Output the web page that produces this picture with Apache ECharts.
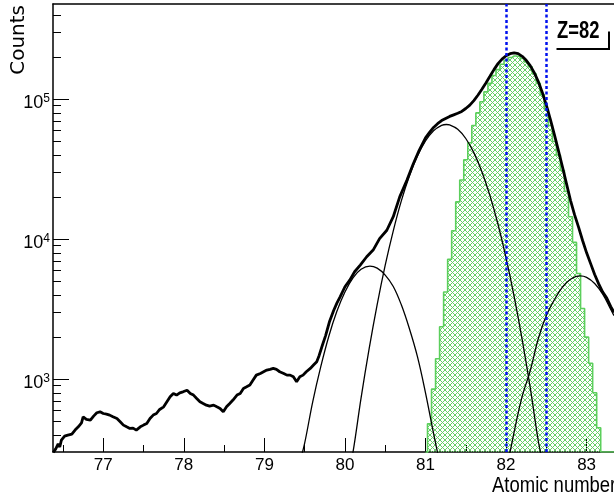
<!DOCTYPE html>
<html>
<head>
<meta charset="utf-8">
<script src="https://cdn.jsdelivr.net/npm/echarts@6/dist/echarts.min.js"></script>
<style>
html,body{margin:0;padding:0;background:#fff;}
#chart{width:614px;height:500px;}
</style>
</head>
<body>
<div id="chart"></div>
<script>
// ---------------- data ----------------
const xTickValues = [77, 78, 79, 80, 81, 82, 83];
const xMinorTickValues = [76.5, 77.5, 78.5, 79.5, 80.5, 81.5, 82.5];
const yMinorTickValues = [400, 500, 600, 700, 800, 900,
  2000, 3000, 4000, 5000, 6000, 7000, 8000, 9000,
  20000, 30000, 40000, 50000, 60000, 70000, 80000, 90000,
  200000, 300000, 400000];
const zCutLines = [82.0, 82.5];

// measured spectrum (thick black histogram)
const dataZ = [76.38,76.41,76.44,76.46,76.48,76.52,76.56,76.61,76.65,76.69,76.73,76.75,76.79,76.84,76.88,76.92,76.96,
  77.00,77.04,77.08,77.12,77.17,77.21,77.25,77.29,77.33,77.37,77.41,77.46,77.50,77.54,77.58,77.62,77.66,77.70,77.75,77.79,77.83,77.87,77.91,77.95,77.99,
  78.04,78.08,78.12,78.16,78.20,78.24,78.28,78.32,78.37,78.41,78.45,78.49,78.53,78.57,78.61,78.66,78.70,78.74,78.78,78.82,78.86,78.90,78.95,78.99,
  79.03,79.07,79.11,79.15,79.19,79.24,79.28,79.32,79.36,79.40,79.44,79.48,79.52,79.57,79.61,79.65,79.68,79.72,79.76,79.81,79.86,79.90,79.94,
  80.00,80.06,80.12,80.19,80.27,80.35,80.43,80.52,80.60,80.68,80.77,80.85,80.92,
  81.00,81.05,81.10,81.15,81.20,81.25,81.30,81.35,81.40,81.45,81.50,81.55,81.60,81.65,81.70,81.75,81.80,81.85,81.90,81.95,
  82.00,82.05,82.10,82.15,82.20,82.25,82.30,82.35,82.40,82.45,82.50,82.55,82.60,82.65,82.70,82.75,82.80,82.85,82.90,82.95,
  83.00,83.05,83.10,83.15,83.20,83.25,83.30,83.34];
const dataCounts = [300,318,345,328,367,392,399,405,433,457,488,539,516,510,545,576,585,
  569,563,554,539,524,497,470,457,445,447,433,457,470,483,524,554,569,608,635,690,749,791,770,800,813,
  835,791,770,728,690,671,653,643,653,635,618,585,635,671,710,770,791,859,883,908,986,1070,1100,1131,
  1162,1175,1194,1175,1131,1100,1070,1070,1040,959,1040,1070,1131,1194,1262,1334,1480,1750,2050,2600,3100,3500,3880,
  4580,5110,5860,6540,7500,8370,10100,11600,14500,20100,26500,34800,43000,
  53000,58000,63000,67000,70500,73000,75500,77500,79500,82000,86000,91000,98000,107000,118000,131000,146000,163000,180000,194000,
  205000,212000,215000,212000,203000,190000,174000,155000,134000,112000,91000,72000,56000,43000,33000,25000,19000,15000,12200,9800,
  8000,6700,5600,4800,4200,3800,3300,3000];

// Z=82 component (green hatched histogram)
const z82Z = [81.00,81.05,81.10,81.15,81.20,81.25,81.30,81.35,81.40,81.45,81.50,81.55,81.60,81.65,81.70,81.75,81.80,81.85,81.90,81.95,
  82.00,82.05,82.10,82.15,82.20,82.25,82.30,82.35,82.40,82.45,82.50,82.55,82.60,82.65,82.70,82.75,82.80,82.85,82.90,82.95,
  83.00,83.05,83.10,83.15,83.20,83.25,83.30,83.34];
const z82Counts = [300,480,850,1400,2370,4200,7200,11500,18500,26500,37000,49000,65000,80000,96000,113000,130000,148000,163000,178000,
  190000,199000,204000,203000,196000,185000,171000,152000,130000,108000,85000,65000,50000,40000,31000,22000,14500,9500,5700,3200,
  2000,1300,800,450,302,302,302,302];

// Z=80 fit component
const fit80Z = [79.45,79.50,79.60,79.70,79.80,79.90,80.00,80.10,80.20,80.31,80.40,80.50,80.60,80.70,80.80,80.90,81.00,81.10,81.16];
const fit80Counts = [270,349,690,1230,2030,3060,4200,5300,6100,6440,6220,5550,4600,3400,2300,1450,800,410,280];

// Z=81 fit component
const fit81Z = [80.08,80.10,80.20,80.30,80.40,80.50,80.60,80.70,80.80,80.90,81.00,81.10,81.20,81.26,81.30,81.40,81.50,81.60,81.70,81.80,81.90,82.00,82.10,82.20,82.30,82.40,82.44];
const fit81Counts = [280,301,733,1645,3410,6530,11500,18800,28300,39300,50400,59600,65100,66100,65600,61100,52500,41600,30400,20500,12800,7360,3910,1920,870,362,280];

// Z=83 fit component
const fit83Z = [82.03,82.05,82.10,82.20,82.30,82.40,82.50,82.60,82.70,82.80,82.92,83.00,83.10,83.20,83.30,83.34];
const fit83Counts = [280,303,419,754,1150,1945,2850,3700,4550,5180,5470,5340,4830,4055,3150,2850];

// ---------------- chart ----------------
const X_MIN = 76.376, X_MAX = 83.34;
const Y_MIN = 302, Y_MAX = 480000;
const pairs = (xs, ys) => xs.map((x, i) => [x, ys[i]]);

const sans = "'Liberation Sans', Arial, Helvetica, sans-serif";

// cross-hatch pattern for the Z=82 fill (crisp 1px diagonals)
const pc = document.createElement('canvas');
pc.width = 5; pc.height = 5;
const pg = pc.getContext('2d');
pg.fillStyle = '#66d066';
for (let i = 0; i < 5; i++) {
  pg.fillRect(i, i, 1, 1);
  pg.fillRect(4 - i, i, 1, 1);
}

const chart = echarts.init(document.getElementById('chart'), null, {renderer: 'canvas'});

const thin = (name, xs, ys) => ({
  name: name, type: 'line', data: pairs(xs, ys), smooth: 0.4, showSymbol: false, symbol: 'none',
  lineStyle: {color: '#000', width: 1.3}, z: 3, clip: true, silent: true
});

chart.setOption({
  animation: false,
  backgroundColor: '#fff',
  grid: {left: 53, top: 4, right: 0, bottom: 48, containLabel: false},
  xAxis: [
    {
      type: 'value', min: X_MIN, max: X_MAX, position: 'bottom',
      axisLine: {show: true, onZero: false, lineStyle: {color: '#000', width: 1.5}},
      axisTick: {show: true, inside: true, length: 14, customValues: xTickValues, lineStyle: {color: '#000', width: 1}},
      axisLabel: {show: true, customValues: xTickValues, margin: 5, color: '#000', fontSize: 17, fontFamily: sans,
        formatter: v => String(Math.round(v))},
      splitLine: {show: false}
    },
    {
      type: 'value', min: X_MIN, max: X_MAX, position: 'bottom',
      axisLine: {show: false, onZero: false},
      axisTick: {show: true, inside: true, length: 7, customValues: xMinorTickValues, lineStyle: {color: '#000', width: 1}},
      axisLabel: {show: false},
      splitLine: {show: false}
    },
    {
      type: 'value', min: X_MIN, max: X_MAX, position: 'top',
      axisLine: {show: true, onZero: false, lineStyle: {color: '#000', width: 1.5}},
      axisTick: {show: false}, axisLabel: {show: false}, splitLine: {show: false}
    }
  ],
  yAxis: [
    {
      type: 'log', logBase: 10, min: Y_MIN, max: Y_MAX, position: 'left',
      axisLine: {show: true, onZero: false, lineStyle: {color: '#000', width: 1.5}},
      axisTick: {show: true, inside: true, length: 16, lineStyle: {color: '#000', width: 1}},
      axisLabel: {
        show: true, margin: 3, showMinLabel: false, showMaxLabel: false, padding: [8, 0, 0, 0],
        formatter: function (v) {
          const e = Math.round(Math.log10(v));
          if (Math.abs(v - Math.pow(10, e)) < 1e-6 * v) return '{b|10}{s|' + e + '}';
          return '';
        },
        rich: {
          b: {fontSize: 18, fontFamily: sans, color: '#000', lineHeight: 22},
          s: {fontSize: 12, fontFamily: sans, color: '#000', lineHeight: 12, verticalAlign: 'top'}
        }
      },
      splitLine: {show: false}
    },
    {
      type: 'value', min: Math.log10(Y_MIN), max: Math.log10(Y_MAX), position: 'left',
      axisLine: {show: false, onZero: false},
      axisTick: {show: true, inside: true, length: 8, customValues: yMinorTickValues.map(v => Math.log10(v)),
        lineStyle: {color: '#000', width: 1}},
      axisLabel: {show: false}, splitLine: {show: false}
    }
  ],
  series: [
    {
      name: 'Z=82', type: 'line', data: pairs(z82Z, z82Counts), step: 'middle', showSymbol: false, symbol: 'none',
      lineStyle: {color: '#5ccf5c', width: 1.6},
      areaStyle: {color: {image: pc, repeat: 'repeat'}, opacity: 1},
      z: 2, clip: true, silent: true
    },
    thin('Z=80 fit', fit80Z, fit80Counts),
    thin('Z=81 fit', fit81Z, fit81Counts),
    thin('Z=83 fit', fit83Z, fit83Counts),
    {
      name: 'Data', type: 'line', data: pairs(dataZ, dataCounts), showSymbol: false, symbol: 'none',
      lineStyle: {color: '#000', width: 2.8}, z: 4, clip: true, silent: true,
      markLine: {
        silent: true, symbol: ['none', 'none'], label: {show: false},
        lineStyle: {color: '#0010ee', type: [3, 2.5], width: 2.5},
        data: zCutLines.map(v => ({xAxis: v})),
        z: 6
      }
    }
  ],
  graphic: [
    {type: 'text', x: 19, y: 5, rotation: Math.PI / 2, z: 10,
      style: {text: 'Counts', font: "20px 'DejaVu Sans', sans-serif", fill: '#000',
        align: 'right', verticalAlign: 'middle', textAlign: 'right', textVerticalAlign: 'middle'}},
    {type: 'text', x: 492, y: 486, scaleX: 0.84, z: 10,
      style: {text: 'Atomic number', font: "22px " + sans, fill: '#000',
        align: 'left', verticalAlign: 'middle', textAlign: 'left', textVerticalAlign: 'middle'}},
    {type: 'text', x: 557, y: 32, scaleX: 0.8, z: 10,
      style: {text: 'Z=82', font: "bold 23px " + sans, fill: '#000',
        align: 'left', verticalAlign: 'middle', textAlign: 'left', textVerticalAlign: 'middle'}},
    {type: 'polyline', z: 10, shape: {points: [[556.5, 49], [609, 49], [609, 31.5]]},
      style: {stroke: '#000', lineWidth: 2, fill: null}}
  ]
});
</script>
</body>
</html>
